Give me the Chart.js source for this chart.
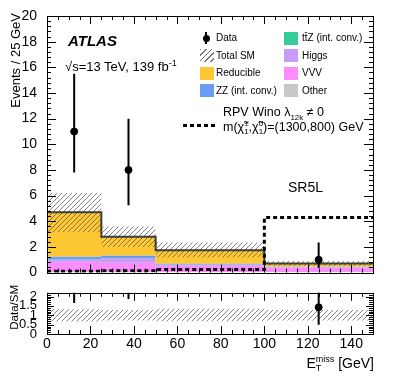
<!DOCTYPE html>
<html>
<head>
<meta charset="utf-8">
<script src="https://cdn.jsdelivr.net/npm/chart.js@4.4.1/dist/chart.umd.min.js"></script>
<style>
  body { margin: 0; background: #fff; }
  #wrap { position: relative; width: 395px; height: 379px; overflow: hidden; font-family: "Liberation Sans", Arial, Helvetica, sans-serif; color: #000; }
  #main { position: absolute; left: 0; top: 0; }
  #ratio { position: absolute; left: 0; top: 283px; }
  .t { position: absolute; white-space: nowrap; }
  .leg { font-size: 10px; line-height: 10px; }
  .sw { position: absolute; width: 14px; height: 13px; }
  .ss { display: inline-flex; flex-direction: column; vertical-align: middle; line-height: 8px; font-size: 8px; }
  .rot { transform-origin: 0 0; text-align: right; }
</style>
</head>
<body>
<div id="wrap">
  <canvas id="main" width="395" height="283"></canvas>
  <canvas id="ratio" width="395" height="96"></canvas>

  <div class="t rot" style="font-size:13px;line-height:13px;width:200px;left:0;top:0;transform:translate(9px,213px) rotate(-90deg);">Events / 25 GeV</div>
  <div class="t rot" style="font-size:11.5px;line-height:11.5px;width:100px;left:0;top:0;transform:translate(9px,385px) rotate(-90deg);">Data/SM</div>

  <div class="t" style="left:68px;top:33px;font-size:15px;line-height:15px;font-weight:bold;font-style:italic;">ATLAS</div>
  <div class="t" style="left:65px;top:57px;font-size:13px;line-height:13px;">√s=13 TeV, 139 fb<sup style="font-size:9px;">-1</sup></div>

  <!-- legend, first column -->
  <div style="position:absolute;left:205px;top:32px;width:2px;height:12px;background:#000;"></div>
  <div style="position:absolute;left:202.5px;top:34.5px;width:7px;height:7px;border-radius:50%;background:#000;"></div>
  <div class="t leg" style="left:216px;top:33px;">Data</div>
  <div class="sw" style="left:200px;top:49px;background:repeating-linear-gradient(135deg,#777 0 1px,transparent 1px 4px);"></div>
  <div class="t leg" style="left:216px;top:50.5px;">Total SM</div>
  <div class="sw" id="swRed" style="left:200px;top:67px;"></div>
  <div class="t leg" style="left:216px;top:68px;">Reducible</div>
  <div class="sw" id="swZZ" style="left:200px;top:84px;"></div>
  <div class="t leg" style="left:216px;top:85.5px;">ZZ (int. conv.)</div>

  <!-- legend, second column -->
  <div class="sw" id="swTTZ" style="left:284px;top:32px;"></div>
  <div class="t leg" style="left:302px;top:33px;">tt̄Z (int. conv.)</div>
  <div class="sw" id="swHiggs" style="left:284px;top:49px;"></div>
  <div class="t leg" style="left:302px;top:50.5px;">Higgs</div>
  <div class="sw" id="swVVV" style="left:284px;top:67px;"></div>
  <div class="t leg" style="left:302px;top:68px;">VVV</div>
  <div class="sw" id="swOther" style="left:284px;top:84px;"></div>
  <div class="t leg" style="left:302px;top:85.5px;">Other</div>

  <!-- signal -->
  <div style="position:absolute;left:183px;top:123.5px;width:35px;height:3px;background:repeating-linear-gradient(90deg,#000 0 4px,transparent 4px 7px);"></div>
  <div class="t" style="left:223px;top:106px;font-size:12.5px;line-height:12.5px;">RPV Wino λ<sub style="font-size:8px;">12k</sub> ≠ 0</div>
  <div class="t" style="left:223px;top:119.5px;font-size:12.5px;line-height:12.5px;">m(χ̃<span class="ss"><span>±</span><span>1</span></span>,χ̃<span class="ss"><span>0</span><span>1</span></span>)=(1300,800) GeV</div>

  <div class="t" style="left:288px;top:180px;font-size:14px;line-height:14px;">SR5L</div>

  <div class="t" style="right:21px;top:355px;font-size:14px;line-height:14px;">E<span class="ss" style="font-size:9px;line-height:9px;"><span>miss</span><span>T</span></span> [GeV]</div>
</div>

<script>
// bins in E_T^miss [GeV]
const binEdges = [0, 25, 50, 100, 150];
const xTicks = [0, 20, 40, 60, 80, 100, 120, 140];
const yTicks = [0, 2, 4, 6, 8, 10, 12, 14, 16, 18, 20];
const ratioTicks = [0, 0.5, 1, 1.5, 2];

// background stack, bottom to top (events / 25 GeV)
const other = [0.03, 0.03, 0.02, 0.02];
const vvv = [0.82, 0.73, 0.52, 0.38];
const higgs = [0.15, 0.36, 0.08, 0.04];
const ttz = [0.02, 0.02, 0.01, 0.01];
const zz = [0.23, 0.2, 0.07, 0.02];
const reducible = [3.45, 1.46, 1.05, 0.23];

// total SM uncertainty band
const smUp = [6.2, 3.6, 2.35, 0.9];
const smDown = [3.15, 2.0, 1.2, 0.5];

// RPV Wino signal
const signal = [0.1, 0.15, 0.24, 4.3];

// data
const dataX = [12.5, 37.5, 75, 125];
const dataY = [11, 8, null, 1];
const dataUp = [15.5, 12.0, null, 2.35];
const dataDown = [7.8, 5.25, null, 0.35];

const colors = {
  other: '#c8c8c8', vvv: '#fc8dfc', higgs: '#c99bf6',
  ttz: '#36cc9a', zz: '#6a9cf3', reducible: '#fdc832'
};

document.getElementById('swRed').style.background = colors.reducible;
document.getElementById('swZZ').style.background = colors.zz;
document.getElementById('swTTZ').style.background = colors.ttz;
document.getElementById('swHiggs').style.background = colors.higgs;
document.getElementById('swVVV').style.background = colors.vvv;
document.getElementById('swOther').style.background = colors.other;

Chart.defaults.font.family = '"Liberation Sans", Arial, Helvetica, sans-serif';
Chart.defaults.font.size = 14;
Chart.defaults.color = '#000';

function steps(vals) {
  return binEdges.map((e, i) => ({ x: e, y: vals[Math.min(i, vals.length - 1)] }));
}

function hatch() {
  const c = document.createElement('canvas');
  c.width = 5; c.height = 5;
  const g = c.getContext('2d');
  g.strokeStyle = 'rgba(90,90,90,0.75)';
  g.lineWidth = 1;
  g.beginPath();
  g.moveTo(0, 5); g.lineTo(5, 0);
  g.moveTo(-1, 1); g.lineTo(1, -1);
  g.moveTo(4, 6); g.lineTo(6, 4);
  g.stroke();
  return g.createPattern(c, 'repeat');
}

function frameTicks(o) {
  return {
    id: 'frameTicks',
    afterDraw(chart) {
      const { ctx, chartArea: a, scales: { x, y } } = chart;
      ctx.save();
      ctx.strokeStyle = '#000';
      ctx.lineWidth = 1;
      const tk = (step, max, fn) => {
        for (let i = 0; i * step <= max + 1e-9; i++) fn(+(i * step).toFixed(6));
      };
      ctx.beginPath();
      tk(o.xMinor, x.max, v => {
        const px = Math.round(x.getPixelForValue(v)) + 0.5;
        const len = Math.abs(v / o.xMajor - Math.round(v / o.xMajor)) < 1e-6 ? o.majLen : o.minLen;
        ctx.moveTo(px, a.bottom); ctx.lineTo(px, a.bottom - len);
        ctx.moveTo(px, a.top); ctx.lineTo(px, a.top + len);
      });
      tk(o.yMinor, y.max, v => {
        const py = Math.round(y.getPixelForValue(v)) + 0.5;
        const len = Math.abs(v / o.yMajor - Math.round(v / o.yMajor)) < 1e-6 ? o.yMajLen : o.minLen;
        ctx.moveTo(a.left, py); ctx.lineTo(a.left + len, py);
        ctx.moveTo(a.right, py); ctx.lineTo(a.right - len, py);
      });
      ctx.stroke();
      ctx.strokeRect(Math.round(a.left) + 0.5, Math.round(a.top) + 0.5, Math.round(a.right - a.left), Math.round(a.bottom - a.top));
      ctx.restore();
    }
  };
}

function errorBars(bars) {
  return {
    id: 'errorBars',
    afterDatasetsDraw(chart) {
      const { ctx, chartArea: a, scales: { x, y } } = chart;
      ctx.save();
      ctx.beginPath();
      ctx.rect(a.left, a.top, a.right - a.left, a.bottom - a.top);
      ctx.clip();
      ctx.strokeStyle = '#000';
      ctx.lineWidth = 2;
      bars.forEach(b => {
        const px = x.getPixelForValue(b.x);
        ctx.beginPath();
        ctx.moveTo(px, y.getPixelForValue(b.lo));
        ctx.lineTo(px, y.getPixelForValue(b.hi));
        ctx.stroke();
      });
      ctx.restore();
    }
  };
}

const pattern = hatch();

// main panel
const layers = [
  { vals: other, color: colors.other },
  { vals: vvv, color: colors.vvv },
  { vals: higgs, color: colors.higgs },
  { vals: ttz, color: colors.ttz },
  { vals: zz, color: colors.zz },
  { vals: reducible, color: colors.reducible }
];
let cum = [0, 0, 0, 0];
const stackSets = layers.map((l, i) => {
  cum = cum.map((c, j) => c + l.vals[j]);
  return {
    data: steps(cum.slice()), stepped: true, borderWidth: 0, pointRadius: 0,
    backgroundColor: l.color, fill: i === 0 ? 'origin' : '-1', order: 20 - i
  };
});
const totalSM = cum.slice();

const dataPts = [];
const mainBars = [];
dataX.forEach((x, i) => {
  if (dataY[i] === null) return;
  dataPts.push({ x, y: dataY[i] });
  mainBars.push({ x, lo: dataDown[i], hi: dataUp[i] });
});

new Chart(document.getElementById('main'), {
  type: 'line',
  data: {
    datasets: [
      ...stackSets,
      { data: steps(smDown), stepped: true, borderWidth: 0, pointRadius: 0, fill: false, order: 5 },
      { data: steps(smUp), stepped: true, borderWidth: 0, pointRadius: 0, fill: '-1', backgroundColor: pattern, order: 4 },
      { data: steps(totalSM), stepped: true, borderWidth: 2, borderColor: '#3c3c3c', pointRadius: 0, fill: false, order: 3 },
      { data: steps(signal), stepped: true, borderWidth: 3, borderColor: '#000', borderDash: [4, 3], pointRadius: 0, fill: false, order: 2 },
      { data: dataPts, showLine: false, pointRadius: 3.5, pointBackgroundColor: '#000', pointBorderColor: '#000', order: 1 }
    ]
  },
  options: {
    responsive: false, devicePixelRatio: 1, animation: false,
    layout: { padding: { left: 0, right: 22, top: 16, bottom: 5 } },
    plugins: { legend: { display: false }, tooltip: { enabled: false } },
    scales: {
      x: { type: 'linear', min: 0, max: 150, display: false },
      y: {
        type: 'linear', min: 0, max: 20,
        grid: { display: false }, border: { display: false },
        ticks: { padding: 2, autoSkip: false, font: { size: 14 } },
        afterBuildTicks: s => { s.ticks = yTicks.map(v => ({ value: v })); },
        afterFit: s => { s.width = 47; }
      }
    }
  },
  plugins: [errorBars(mainBars), frameTicks({ xMajor: 20, xMinor: 5, yMajor: 2, yMinor: 0.4, majLen: 8, yMajLen: 9, minLen: 4 })]
});

// ratio panel
const ratioMax = 2.2;
const rUp = smUp.map((v, i) => v / totalSM[i]);
const rDown = smDown.map((v, i) => v / totalSM[i]);
const ratioPts = [];
const ratioBars = [];
dataX.forEach((x, i) => {
  if (dataY[i] === null) return;
  const r = dataY[i] / totalSM[i];
  if (r <= ratioMax) ratioPts.push({ x, y: r });
  ratioBars.push({ x, lo: dataDown[i] / totalSM[i], hi: dataUp[i] / totalSM[i] });
});

new Chart(document.getElementById('ratio'), {
  type: 'line',
  data: {
    datasets: [
      { data: steps(rDown), stepped: true, borderWidth: 0, pointRadius: 0, fill: false, order: 3 },
      { data: steps(rUp), stepped: true, borderWidth: 0, pointRadius: 0, fill: '-1', backgroundColor: pattern, order: 2 },
      { data: ratioPts, showLine: false, pointRadius: 3.5, pointBackgroundColor: '#000', pointBorderColor: '#000', order: 1 }
    ]
  },
  options: {
    responsive: false, devicePixelRatio: 1, animation: false,
    layout: { padding: { left: 0, right: 22, top: 2, bottom: 0 } },
    plugins: { legend: { display: false }, tooltip: { enabled: false } },
    scales: {
      x: {
        type: 'linear', min: 0, max: 150,
        grid: { display: false }, border: { display: false },
        ticks: { padding: -6, autoSkip: false, maxRotation: 0, font: { size: 14 } },
        afterBuildTicks: s => { s.ticks = xTicks.map(v => ({ value: v })); },
        afterFit: s => { s.height = 45; }
      },
      y: {
        type: 'linear', min: 0, max: ratioMax,
        grid: { display: false }, border: { display: false },
        ticks: { padding: 2, autoSkip: false, font: { size: 13 }, callback: v => String(v) },
        afterBuildTicks: s => { s.ticks = ratioTicks.map(v => ({ value: v })); },
        afterFit: s => { s.width = 47; }
      }
    }
  },
  plugins: [errorBars(ratioBars), frameTicks({ xMajor: 20, xMinor: 5, yMajor: 0.5, yMinor: 0.1, majLen: 8, yMajLen: 7, minLen: 4 })]
});
</script>
</body>
</html>
